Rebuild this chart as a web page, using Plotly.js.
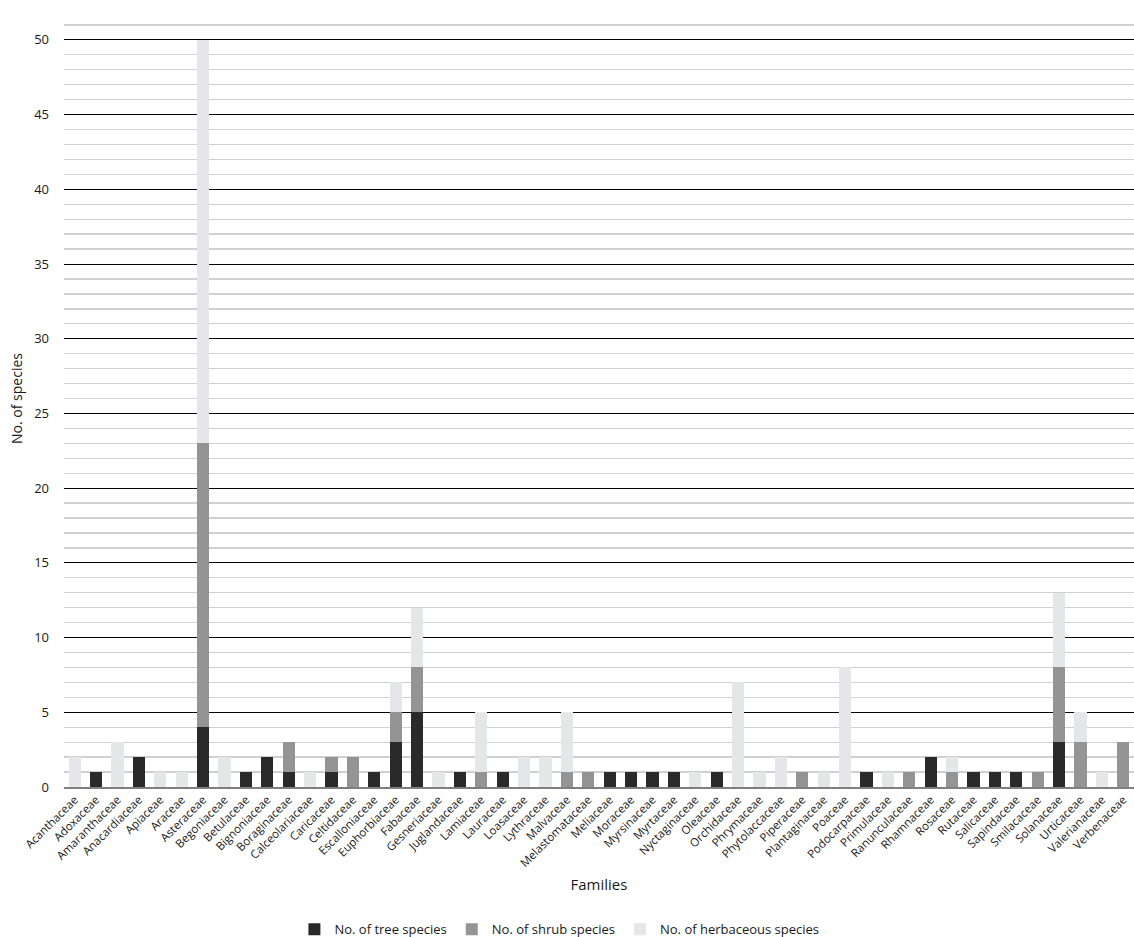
<!DOCTYPE html>
<html>
<head>
<meta charset="utf-8">
<script src="https://cdn.plot.ly/plotly-3.0.1.min.js"></script>
<style>html,body{margin:0;padding:0;background:#fff;}#chart{width:1134px;height:937px;}</style>
</head>
<body>
<div id="chart"></div>
<script>
var families = ["Acanthaceae","Adoxaceae","Amaranthaceae","Anacardiaceae","Apiaceae","Araceae","Asteraceae","Begoniaceae","Betulaceae","Bignoniaceae","Boraginaceae","Calceolariaceae","Caricaceae","Celtidaceae","Escalloniaceae","Euphorbiaceae","Fabaceae","Gesneriaceae","Juglandaceae","Lamiaceae","Lauraceae","Loasaceae","Lythraceae","Malvaceae","Melastomataceae","Meliaceae","Moraceae","Myrsinaceae","Myrtaceae","Nyctaginaceae","Oleaceae","Orchidaceae","Phrymaceae","Phytolaccaceae","Piperaceae","Plantaginaceae","Poaceae","Podocarpaceae","Primulaceae","Ranunculaceae","Rhamnaceae","Rosaceae","Rutaceae","Salicaceae","Sapindaceae","Smilacaceae","Solanaceae","Urticaceae","Valerianaceae","Verbenaceae"];
var treeSpecies  = [0,1,0,2,0,0,4,0,1,2,1,0,1,0,1,3,5,0,1,0,1,0,0,0,0,1,1,1,1,0,1,0,0,0,0,0,0,1,0,0,2,0,1,1,1,0,3,0,0,0];
var shrubSpecies = [0,0,0,0,0,0,19,0,0,0,2,0,1,2,0,2,3,0,0,1,0,0,0,1,1,0,0,0,0,0,0,0,0,0,1,0,0,0,0,1,0,1,0,0,0,1,5,3,0,3];
var herbSpecies  = [2,0,3,0,1,1,27,2,0,0,0,1,0,0,0,2,4,1,0,4,0,2,2,4,0,0,0,0,0,1,0,7,1,2,0,1,8,0,1,0,0,1,0,0,0,0,5,2,1,0];

var font = "'Open Sans', 'DejaVu Sans', sans-serif";
var traces = [
  {type:'bar', name:'No. of tree species', x:families, y:treeSpecies, marker:{color:'#2a2a2a'}},
  {type:'bar', name:'No. of shrub species', x:families, y:shrubSpecies, marker:{color:'#949494'}},
  {type:'bar', name:'No. of herbaceous species', x:families, y:herbSpecies, marker:{color:'#e5e6e7'}}
];
var layout = {
  width:1134, height:937,
  barmode:'stack', bargap:0.43,
  margin:{l:64, r:0, t:10, b:150, autoexpand:false},
  paper_bgcolor:'#fff', plot_bgcolor:'#fff',
  font:{family:font, color:'#1a1a1a'},
  showlegend:true,
  legend:{orientation:'h', x:0.463, xanchor:'center', y:-0.183, yanchor:'middle',
          font:{size:13, family:font}, traceorder:'normal', itemwidth:30},
  xaxis:{
    type:'category', tickangle:-45, tickfont:{size:11.5, family:font}, automargin:false,
    showgrid:false, showline:true, linecolor:'#7f7f7f', linewidth:1.5, ticks:'',
    title:{text:'Families', font:{size:15, family:font}, standoff:10}
  },
  yaxis:{
    range:[0,52], dtick:5, tick0:0, showgrid:true, gridcolor:'#000', gridwidth:1, automargin:false,
    zeroline:false, showline:false, ticks:'', tickfont:{size:13, family:font}, ticklabelstandoff:14,
    minor:{dtick:1, tick0:0, showgrid:true, gridcolor:'#d0d0d0', gridwidth:1.3},
    title:{text:'No. of species', font:{size:14, family:font}, standoff:8}
  }
};
Plotly.newPlot('chart', traces, layout, {displayModeBar:false, staticPlot:true});
</script>
</body>
</html>
